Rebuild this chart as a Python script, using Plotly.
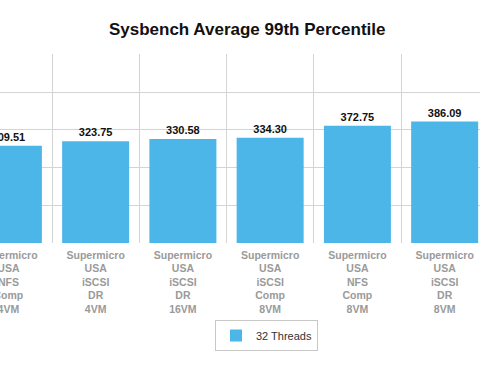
import plotly.graph_objects as go

categories = [
    "Supermicro<br>USA<br>NFS<br>Comp<br>4VM",
    "Supermicro<br>USA<br>iSCSI<br>DR<br>4VM",
    "Supermicro<br>USA<br>iSCSI<br>DR<br>16VM",
    "Supermicro<br>USA<br>iSCSI<br>Comp<br>8VM",
    "Supermicro<br>USA<br>NFS<br>Comp<br>8VM",
    "Supermicro<br>USA<br>iSCSI<br>DR<br>8VM",
]
values_32_threads = [309.51, 323.75, 330.58, 334.30, 372.75, 386.09]
series_name = "32 Threads"
title_text = "Sysbench Average 99th Percentile"

FONT = "Liberation Sans, Arial, sans-serif"

fig = go.Figure()
fig.add_trace(go.Bar(
    x=categories,
    y=values_32_threads,
    name=series_name,
    marker=dict(color="#4db6e8", line=dict(width=0)),
    text=[f"{v:.2f}" for v in values_32_threads],
    textposition="outside",
    textfont=dict(family=FONT, size=11, color="#111111", weight="bold"),
    cliponaxis=False,
    showlegend=True,
))

fig.update_layout(
    template="none",
    width=480, height=376,
    margin=dict(l=0, r=0, t=54, b=133),
    paper_bgcolor="white", plot_bgcolor="white",
    bargap=0.232,
    title=dict(text=title_text, x=0.515, xanchor="center", y=1 - 29 / 376, yanchor="middle",
               font=dict(family=FONT, size=17, color="#111111", weight="bold")),
    xaxis=dict(
        type="category",
        range=[-0.096, 5.405],
        tickson="boundaries",
        showgrid=True, gridcolor="#d4d4d4", gridwidth=1,
        ticks="", showline=False, zeroline=False, automargin=False,
        ticklabelstandoff=4,
        tickfont=dict(family=FONT, size=10.5, color="#9a9a9a", weight="bold"),
    ),
    yaxis=dict(
        range=[0, 601], tickvals=[0, 120, 240, 360, 480, 600],
        showgrid=True, gridcolor="#d4d4d4", gridwidth=1,
        showticklabels=False, ticks="", zeroline=False, showline=False, automargin=False,
    ),
    legend=dict(
        orientation="h",
        x=215 / 480, xanchor="left",
        yref="container", y=1 - 320 / 376, yanchor="top",
        bordercolor="#c8c8c8", borderwidth=1,
        font=dict(family=FONT, size=11, color="#333333"),
        itemwidth=30,
    ),
    showlegend=True,
)

fig.write_html(
    "out.html",
    config={"displayModeBar": False},
    post_script="document.body.style.margin='0';document.body.style.overflow='hidden';",
)
